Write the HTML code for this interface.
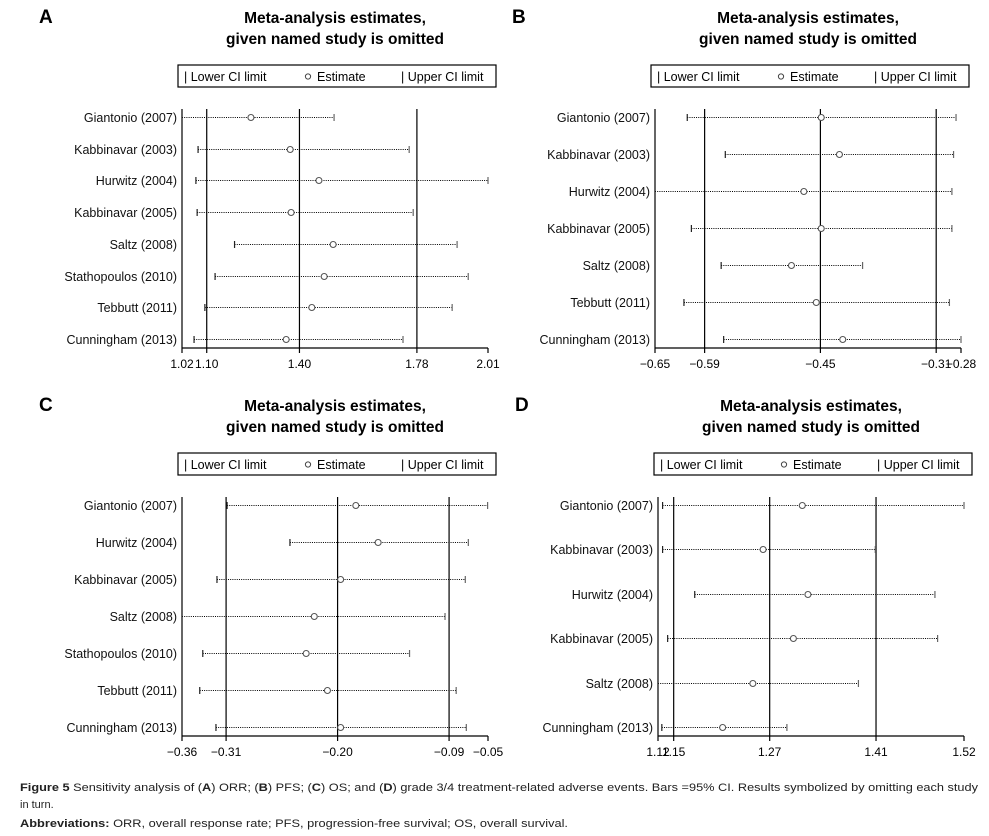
<!DOCTYPE html>
<html><head><meta charset="utf-8"><style>
html,body{margin:0;padding:0;background:#fff;}
svg{display:block;font-family:"Liberation Sans",Arial,sans-serif;}
</style></head><body>
<svg id="fig" width="989" height="836" viewBox="0 0 989 836" xmlns="http://www.w3.org/2000/svg">
<g id="caption" font-family="'Liberation Sans',sans-serif" font-size="11" fill="#222">
<text x="20" y="791" textLength="958" lengthAdjust="spacingAndGlyphs"><tspan font-weight="bold">Figure 5</tspan> Sensitivity analysis of (<tspan font-weight="bold">A</tspan>) ORR; (<tspan font-weight="bold">B</tspan>) PFS; (<tspan font-weight="bold">C</tspan>) OS; and (<tspan font-weight="bold">D</tspan>) grade 3/4 treatment-related adverse events. Bars =95% CI. Results symbolized by omitting each study</text>
<text x="20" y="808">in turn.</text>
<text x="20" y="827" textLength="548" lengthAdjust="spacingAndGlyphs"><tspan font-weight="bold">Abbreviations:</tspan> ORR, overall response rate; PFS, progression-free survival; OS, overall survival.</text>
</g>
</svg>
<script>
// ---- Panel A (ORR) ----
const aStudies = ["Giantonio (2007)","Kabbinavar (2003)","Hurwitz (2004)","Kabbinavar (2005)","Saltz (2008)","Stathopoulos (2010)","Tebbutt (2011)","Cunningham (2013)"];
const aLower = [1.02,1.072,1.065,1.069,1.19,1.127,1.094,1.059];
const aEst = [1.243,1.37,1.463,1.373,1.509,1.48,1.44,1.357];
const aUpper = [1.512,1.755,2.01,1.768,1.91,1.946,1.894,1.735];
const aTickVals = [1.02,1.10,1.40,1.78,2.01];
const aTickLabels = ["1.02","1.10","1.40","1.78","2.01"];
// ---- Panel B (PFS) ----
const bStudies = ["Giantonio (2007)","Kabbinavar (2003)","Hurwitz (2004)","Kabbinavar (2005)","Saltz (2008)","Tebbutt (2011)","Cunningham (2013)"];
const bLower = [-0.611,-0.565,-0.65,-0.606,-0.570,-0.615,-0.567];
const bEst = [-0.449,-0.427,-0.470,-0.449,-0.485,-0.455,-0.423];
const bUpper = [-0.286,-0.289,-0.291,-0.291,-0.399,-0.294,-0.28];
const bTickVals = [-0.65,-0.59,-0.45,-0.31,-0.28];
const bTickLabels = ["\u22120.65","\u22120.59","\u22120.45","\u22120.31","\u22120.28"];
// ---- Panel C (OS) ----
const cStudies = ["Giantonio (2007)","Hurwitz (2004)","Kabbinavar (2005)","Saltz (2008)","Stathopoulos (2010)","Tebbutt (2011)","Cunningham (2013)"];
const cLower = [-0.309,-0.247,-0.319,-0.3535,-0.333,-0.336,-0.320];
const cEst = [-0.182,-0.160,-0.197,-0.223,-0.231,-0.210,-0.197];
const cUpper = [-0.052,-0.071,-0.074,-0.094,-0.129,-0.083,-0.073];
const cTickVals = [-0.3535,-0.31,-0.20,-0.09,-0.0516];
const cTickLabels = ["\u22120.36","\u22120.31","\u22120.20","\u22120.09","\u22120.05"];
// ---- Panel D (grade 3/4 AEs) ----
const dStudies = ["Giantonio (2007)","Kabbinavar (2003)","Hurwitz (2004)","Kabbinavar (2005)","Saltz (2008)","Cunningham (2013)"];
const dLower = [1.126,1.126,1.168,1.1326,1.12,1.125];
const dEst = [1.3086,1.2574,1.316,1.297,1.244,1.2045];
const dUpper = [1.52,1.404,1.482,1.4855,1.382,1.2885];
const dTickVals = [1.12,1.1405,1.266,1.405,1.52];
const dTickLabels = ["1.12","1.15","1.27","1.41","1.52"];

const NS = "http://www.w3.org/2000/svg";
const svg = document.getElementById("fig");
function mk(tag, attrs, parent){
  const e = document.createElementNS(NS, tag);
  for (const k in attrs) e.setAttribute(k, attrs[k]);
  parent.appendChild(e);
  return e;
}
function panel(id, letter, ox, oy, studies, lower, est, upper, tickVals, tickLabels){
  const g = mk("g", {}, svg);
  
  
  const L = ox + 182, R = ox + 488, T = oy + 109, B = oy + 348;
  const lo = tickVals[0], hi = tickVals[tickVals.length - 1];
  const xs = v => L + (v - lo) / (hi - lo) * (R - L);
  const n = studies.length;
  const y0 = T + 8, y1 = B - 9;
  const ys = i => Math.round(y0 + i * (y1 - y0) / (n - 1)) + 0.5;
  const pl = mk("text", {x: ox + 39, y: oy + 23, "font-size": 19, "font-weight": "bold"}, g);
  pl.textContent = letter;
  
  
  const t1 = mk("text", {x: ox + 335, y: oy + 23, "font-size": 15.5, "font-weight": "bold", "text-anchor": "middle"}, g);
  t1.textContent = "Meta-analysis estimates,";
  
  
  const t2 = mk("text", {x: ox + 335, y: oy + 44, "font-size": 15.5, "font-weight": "bold", "text-anchor": "middle"}, g);
  t2.textContent = "given named study is omitted";
  
  
  const lg = mk("g", {}, g);
  
  
  mk("rect", {x: ox + 178, y: oy + 65, width: 318, height: 22, fill: "#fff", stroke: "#000", "stroke-width": 1.2}, lg);
  const leg = [["| Lower CI limit", 184], ["Estimate", 317], ["| Upper CI limit", 401]];
  leg.forEach(l => {
    const tx = mk("text", {x: ox + l[1], y: oy + 81, "font-size": 12.5}, lg);
    tx.textContent = l[0];
    
    
  });
  mk("circle", {cx: ox + 308, cy: oy + 76.5, r: 2.6, fill: "none", stroke: "#444", "stroke-width": 1}, lg);
  for (let i = 1; i < tickVals.length - 1; i++) {
    const rl = mk("line", {x1: xs(tickVals[i]), x2: xs(tickVals[i]), y1: T, y2: B, stroke: "#000", "stroke-width": 1.2}, g);
    
    
  }
  const ya = mk("line", {x1: L, x2: L, y1: T, y2: B, stroke: "#000", "stroke-width": 1.2}, g);
  
  
  const xa = mk("line", {x1: L, x2: R, y1: B, y2: B, stroke: "#000", "stroke-width": 1.2}, g);
  
  
  tickVals.forEach((v, i) => {
    mk("line", {x1: xs(v), x2: xs(v), y1: B, y2: B + 5, stroke: "#000", "stroke-width": 1.2}, g);
    const tl = mk("text", {x: xs(v), y: B + 20, "font-size": 12, "text-anchor": "middle"}, g);
    tl.textContent = tickLabels[i];
    
    
  });
  studies.forEach((s, i) => {
    const y = ys(i);
    const lab = mk("text", {x: L - 5, y: y + 4.5, "font-size": 12.5, "text-anchor": "end", fill: "#111"}, g);
    lab.textContent = s;
    
    
    const ci = mk("line", {x1: xs(lower[i]), x2: xs(upper[i]), y1: y, y2: y, stroke: "#000", "stroke-width": 1, "stroke-dasharray": "1,1.2"}, g);
    
    
    const lc = mk("line", {x1: xs(lower[i]), x2: xs(lower[i]), y1: y - 3.5, y2: y + 3.5, stroke: "#222", "stroke-width": 1.2}, g);
    
    
    const uc = mk("line", {x1: xs(upper[i]), x2: xs(upper[i]), y1: y - 3.5, y2: y + 3.5, stroke: "#666", "stroke-width": 1.2}, g);
    
    
    const c = mk("circle", {cx: xs(est[i]), cy: y, r: 3, fill: "#fff", stroke: "#555", "stroke-width": 1.1}, g);
    
    
  });
}
panel("a", "A", 0, 0, aStudies, aLower, aEst, aUpper, aTickVals, aTickLabels);
panel("b", "B", 473, 0, bStudies, bLower, bEst, bUpper, bTickVals, bTickLabels);
panel("c", "C", 0, 388, cStudies, cLower, cEst, cUpper, cTickVals, cTickLabels);
panel("d", "D", 476, 388, dStudies, dLower, dEst, dUpper, dTickVals, dTickLabels);
</script>
</body></html>
